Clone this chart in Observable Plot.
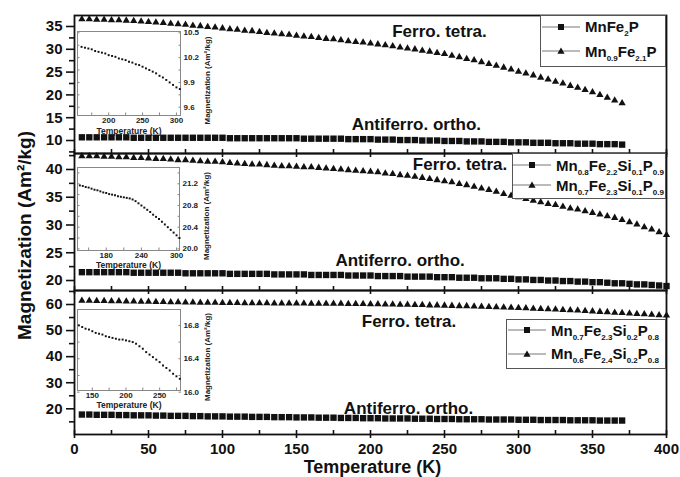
<!DOCTYPE html>
<html><head><meta charset="utf-8">
<script src="https://cdn.jsdelivr.net/npm/d3@7"></script>
<script src="https://cdn.jsdelivr.net/npm/@observablehq/plot@0.6"></script>
<style>
body{margin:0;background:#fff;}
#chart{position:relative;width:680px;height:477px;overflow:hidden;font-family:"Liberation Sans",Arial,Helvetica,sans-serif;color:#111;background:#fff;}
#chart svg{position:absolute;}
.legend{position:absolute;background:#fff;border:1px solid #555;box-sizing:border-box;overflow:hidden;font-weight:bold;font-size:15px;color:#111;}
.row{position:absolute;height:18px;display:flex;align-items:center;white-space:nowrap;}
.row svg{position:static !important;margin-right:5px;}
.sb{font-size:8px;position:relative;top:4px;}
</style></head><body><div id="chart"></div>
<script>
// ---------- data ----------
const temps = [5,10,15,20,25,30,35,40,45,50,55,60,65,70,75,80,85,90,95,100,105,110,115,120,125,130,135,140,145,150,155,160,165,170,175,180,185,190,195,200,205,210,215,220,225,230,235,240,245,250,255,260,265,270,275,280,285,290,295,300,305,310,315,320,325,330,335,340,345,350,355,360,365,370,375,380,385,390,395,400];

// Panel 1
const mnfe2p = [10.7,10.7,10.7,10.7,10.7,10.7,10.7,10.6,10.6,10.6,10.6,10.6,10.6,10.6,10.6,10.6,10.6,10.6,10.6,10.6,10.5,10.5,10.5,10.5,10.5,10.5,10.5,10.5,10.5,10.5,10.4,10.4,10.4,10.4,10.4,10.4,10.3,10.3,10.3,10.3,10.2,10.2,10.2,10.1,10.1,10.1,10.0,10.0,10.0,9.9,9.9,9.9,9.8,9.8,9.8,9.7,9.7,9.7,9.6,9.6,9.6,9.5,9.5,9.5,9.4,9.4,9.4,9.3,9.3,9.3,9.2,9.2,9.2,9.1];
const mn09fe21p = [36.6,36.6,36.5,36.5,36.4,36.4,36.3,36.2,36.1,36.0,35.9,35.8,35.6,35.5,35.4,35.2,35.1,34.9,34.8,34.6,34.4,34.3,34.1,34.0,33.8,33.6,33.5,33.3,33.2,33.0,32.8,32.7,32.5,32.3,32.2,32.0,31.8,31.6,31.5,31.3,31.1,30.9,30.7,30.4,30.2,30.0,29.7,29.5,29.2,29.0,28.6,28.3,27.9,27.6,27.2,26.8,26.4,26.0,25.6,25.1,24.7,24.3,23.8,23.4,22.9,22.5,22.0,21.6,21.1,20.6,20.0,19.4,18.8,18.2];
// Panel 2
const mn08si01 = [21.5,21.5,21.5,21.5,21.5,21.5,21.5,21.4,21.4,21.4,21.4,21.4,21.4,21.4,21.3,21.3,21.3,21.3,21.3,21.3,21.2,21.2,21.2,21.2,21.2,21.2,21.1,21.1,21.1,21.1,21.1,21.0,21.0,21.0,21.0,21.0,20.9,20.9,20.9,20.9,20.8,20.8,20.8,20.8,20.7,20.7,20.7,20.7,20.6,20.6,20.6,20.5,20.5,20.5,20.4,20.4,20.4,20.3,20.3,20.2,20.2,20.1,20.1,20.0,20.0,19.9,19.9,19.8,19.8,19.7,19.7,19.6,19.5,19.5,19.4,19.3,19.3,19.2,19.1,19.0];
const mn07si01 = [42.4,42.4,42.4,42.3,42.3,42.2,42.2,42.1,42.1,42.0,41.9,41.9,41.8,41.7,41.7,41.6,41.5,41.4,41.4,41.3,41.2,41.1,41.0,40.9,40.9,40.8,40.7,40.6,40.6,40.5,40.4,40.4,40.3,40.2,40.1,40.0,39.9,39.8,39.7,39.6,39.5,39.3,39.2,39.0,38.9,38.7,38.5,38.3,38.1,37.9,37.7,37.4,37.2,36.9,36.6,36.3,36.0,35.6,35.3,35.0,34.7,34.4,34.1,33.8,33.6,33.3,33.0,32.8,32.5,32.2,31.9,31.6,31.3,30.9,30.5,30.1,29.6,29.2,28.7,28.2];
// Panel 3
const mn07si02 = [17.8,17.8,17.7,17.7,17.7,17.6,17.6,17.5,17.5,17.5,17.4,17.4,17.3,17.3,17.3,17.2,17.2,17.1,17.1,17.1,17.0,17.0,17.0,16.9,16.9,16.9,16.8,16.8,16.8,16.7,16.7,16.7,16.6,16.6,16.6,16.5,16.5,16.5,16.4,16.4,16.4,16.3,16.3,16.3,16.3,16.2,16.2,16.2,16.1,16.1,16.1,16.0,16.0,16.0,16.0,15.9,15.9,15.9,15.9,15.8,15.8,15.8,15.7,15.7,15.7,15.7,15.6,15.6,15.6,15.6,15.5,15.5,15.5,15.5];
const mn06si02 = [61.5,61.5,61.4,61.4,61.3,61.3,61.2,61.2,61.1,61.1,61.0,61.0,60.9,60.9,60.8,60.8,60.7,60.7,60.7,60.6,60.6,60.6,60.5,60.5,60.5,60.5,60.4,60.4,60.4,60.4,60.4,60.3,60.3,60.3,60.3,60.3,60.2,60.2,60.2,60.1,60.1,60.0,60.0,59.9,59.9,59.8,59.8,59.7,59.7,59.6,59.5,59.4,59.4,59.3,59.2,59.1,59.0,58.9,58.8,58.7,58.6,58.4,58.3,58.2,58.1,57.9,57.8,57.7,57.5,57.4,57.2,57.1,56.9,56.8,56.6,56.4,56.3,56.1,55.9,55.8];

// Insets
const inset1T = [160,165,170,175,180,185,190,195,200,205,210,215,220,225,230,235,240,245,250,255,260,265,270,275,280,285,290,295,300,305];
const inset1M = [10.33,10.32,10.31,10.30,10.28,10.27,10.26,10.25,10.23,10.22,10.21,10.19,10.18,10.17,10.15,10.14,10.12,10.11,10.09,10.07,10.05,10.03,10.01,9.98,9.96,9.93,9.90,9.87,9.84,9.82];
const inset2T = [135,140,145,150,155,160,165,170,175,180,185,190,195,200,205,210,215,220,225,230,235,240,245,250,255,260,265,270,275,280,285,290,295,300,305];
const inset2M = [21.17,21.16,21.14,21.13,21.11,21.09,21.08,21.06,21.04,21.03,21.01,21.00,20.99,20.97,20.96,20.95,20.94,20.93,20.91,20.88,20.84,20.80,20.76,20.72,20.68,20.63,20.59,20.55,20.50,20.45,20.40,20.35,20.30,20.25,20.20];
const inset3T = [130,135,140,145,150,155,160,165,170,175,180,185,190,195,200,205,210,215,220,225,230,235,240,245,250,255,260,265,270,275,280];
const inset3M = [16.80,16.78,16.76,16.75,16.73,16.71,16.70,16.69,16.67,16.66,16.65,16.64,16.63,16.63,16.62,16.61,16.60,16.58,16.55,16.52,16.48,16.45,16.42,16.39,16.36,16.32,16.29,16.26,16.22,16.19,16.16];

// ticks
const xMajor = [0,50,100,150,200,250,300,350,400];
const xMinor = [25,75,125,175,225,275,325,375];
const p1YMajor = [10,15,20,25,30,35];
const p1YMinor = [7.5,12.5,17.5,22.5,27.5,32.5];
const p2YMajor = [20,25,30,35,40];
const p2YMinor = [22.5,27.5,32.5,37.5,42.5];
const p3YMajor = [20,30,40,50,60];
const p3YMinor = [15,25,35,45,55,65];

// annotations (text, temperature, magnetization)
const annoText = ["Ferro. tetra.", "Antiferro. ortho."];
const p1AnnoT = [246.6, 231], p1AnnoM = [33.9, 13.5];
const p2AnnoT = [260.5, 220], p2AnnoM = [40.8, 23.6];
const p3AnnoT = [226, 225.7], p3AnnoM = [53.5, 20.0];

// legends
const legend1 = ["MnFe<span class=sb>2</span>P", "Mn<span class=sb>0.9</span>Fe<span class=sb>2.1</span>P"];
const legend2 = ["Mn<span class=sb>0.8</span>Fe<span class=sb>2.2</span>Si<span class=sb>0.1</span>P<span class=sb>0.9</span>", "Mn<span class=sb>0.7</span>Fe<span class=sb>2.3</span>Si<span class=sb>0.1</span>P<span class=sb>0.9</span>"];
const legend3 = ["Mn<span class=sb>0.7</span>Fe<span class=sb>2.3</span>Si<span class=sb>0.2</span>P<span class=sb>0.8</span>", "Mn<span class=sb>0.6</span>Fe<span class=sb>2.4</span>Si<span class=sb>0.2</span>P<span class=sb>0.8</span>"];

// ---------- drawing ----------
const FONT = '"Liberation Sans", Arial, Helvetica, sans-serif';
const chart = document.getElementById("chart");
function place(svg, left, top) {
  svg.style.position = "absolute"; svg.style.left = left + "px"; svg.style.top = top + "px";
  svg.style.maxWidth = "none";
  chart.appendChild(svg);
}

function panel(o) {
  const sqData = o.sq.map((m, i) => ({t: temps[i], m}));
  const trData = o.tr.map((m, i) => ({t: temps[i], m}));
  const anno = annoText.map((s, i) => ({s, t: o.annoT[i], m: o.annoM[i]}));
  return Plot.plot({
    width: 680, height: 477,
    marginLeft: 74, marginRight: 14, marginTop: o.frameTop, marginBottom: 477 - o.frameBottom,
    x: {domain: [0, 400]},
    y: {domain: o.yDomain},
    style: {background: "transparent", fontFamily: FONT, fontWeight: "bold", fontSize: "15px", color: "#111", overflow: "visible"},
    marks: [
      Plot.dot(sqData, {x: "t", y: "m", symbol: "square", r: 3.6, fill: "#111"}),
      Plot.dot(trData, {x: "t", y: "m", symbol: "triangle", r: 2.7, fill: "#111"}),
      Plot.text(anno, {x: "t", y: "m", text: "s", fontSize: 17, fontWeight: "bold", fill: "#111"}),
      Plot.frame({stroke: "#111", strokeWidth: 1.8}),
      Plot.axisY(o.yMajor, {anchor: "left", tickSize: 8, tickPadding: 4, strokeWidth: 1.6, label: null}),
      Plot.axisY(o.yMinor.filter(v => v > o.yDomain[0] && v < o.yDomain[1]), {anchor: "left", tickSize: 5, strokeWidth: 1.6, fill: "none", label: null}),
      Plot.axisX(xMajor, {anchor: "bottom", tickSize: 8, dy: -4, strokeWidth: 1.6, fill: "none", label: null}),
      Plot.axisX(xMinor, {anchor: "bottom", tickSize: 4, dy: -4, strokeWidth: 1.6, fill: "none", label: null}),
      ...(o.extra || [])
    ]
  });
}

place(panel({sq: mnfe2p, tr: mn09fe21p, yDomain: [7.15, 37.41], yMajor: p1YMajor, yMinor: p1YMinor,
  frameTop: 15, frameBottom: 153, annoT: p1AnnoT, annoM: p1AnnoM}), 0, 0);

place(panel({sq: mn08si01, tr: mn07si01, yDomain: [18.2, 42.88], yMajor: p2YMajor, yMinor: p2YMinor,
  frameTop: 153, frameBottom: 290, annoT: p2AnnoT, annoM: p2AnnoM,
  extra: [Plot.text(["Magnetization (Am²/kg)"], {frameAnchor: "left", textAnchor: "middle", lineAnchor: "middle", dx: -50, dy: 13.5, rotate: -90, fontSize: 19, fontWeight: "bold", fill: "#111"})]}), 0, 0);

place(panel({sq: mn07si02, tr: mn06si02, yDomain: [10.15, 65.37], yMajor: p3YMajor, yMinor: p3YMinor,
  frameTop: 290, frameBottom: 434, annoT: p3AnnoT, annoM: p3AnnoM,
  extra: [
    Plot.axisX(xMajor, {anchor: "bottom", tickSize: 0, tickPadding: 9, label: null, fontSize: 15}),
    Plot.text(["Temperature (K)"], {frameAnchor: "bottom", textAnchor: "middle", lineAnchor: "middle", dx: 2, dy: 32.5, fontSize: 18, fontWeight: "bold", fill: "#111"})
  ]}), 0, 0);

function inset(o) {
  const data = o.T.map((t, i) => ({t, m: o.M[i]}));
  const mL = 4, mT = 2, mR = 46, mB = 30;
  const [x0, y0, x1, y1] = o.box;
  const svg = Plot.plot({
    width: (x1 - x0) + mL + mR, height: (y1 - y0) + mT + mB,
    marginLeft: mL, marginTop: mT, marginRight: mR, marginBottom: mB,
    x: {domain: o.xDomain}, y: {domain: o.yDomain},
    style: {background: "transparent", fontFamily: FONT, fontWeight: "bold", fontSize: "8px", color: "#222", overflow: "visible"},
    marks: [
      Plot.frame({fill: "white", stroke: "#888"}),
      Plot.axisX(o.xMaj.concat(o.xMin), {anchor: "bottom", tickSize: 2.5, dy: -2.5, stroke: "#888", fill: "none", label: null}),
      Plot.axisY(o.yMaj.concat(o.yMin), {anchor: "right", tickSize: 2.5, dx: -2.5, stroke: "#888", fill: "none", label: null}),
      Plot.axisY(o.yMaj.concat(o.yMin), {anchor: "left", tickSize: 2.5, dx: 2.5, stroke: "#888", fill: "none", label: null}),
      Plot.axisX(o.xMaj, {anchor: "bottom", tickSize: 0, tickPadding: 2, label: null, fontSize: 8}),
      Plot.axisY(o.yMaj, {anchor: "right", tickSize: 0, tickPadding: 3, tickFormat: d => d.toFixed(1), label: null, fontSize: 8}),
      Plot.dot(data, {x: "t", y: "m", symbol: "square", r: 1.1, fill: "#111"}),
      Plot.text(["Temperature (K)"], {frameAnchor: "bottom", textAnchor: "middle", lineAnchor: "middle", dy: o.xlabDy, fontSize: 8.5, fontWeight: "bold", fill: "#222"}),
      Plot.text(["Magnetization (Am²/kg)"], {frameAnchor: "right", textAnchor: "middle", lineAnchor: "middle", dx: 27, dy: 7, rotate: -90, fontSize: 8, fontWeight: "bold", fill: "#222"})
    ]
  });
  place(svg, x0 - mL, y0 - mT);
}

inset({T: inset1T, M: inset1M, xDomain: [154, 306], yDomain: [9.5, 10.516],
  xMaj: [200, 250, 300], xMin: [175, 225, 275], yMaj: [9.6, 9.9, 10.2, 10.5], yMin: [9.75, 10.05, 10.35],
  box: [77, 31, 180, 115], xlabDy: 16});
inset({T: inset2T, M: inset2M, xDomain: [131, 305], yDomain: [19.97, 21.5],
  xMaj: [180, 240, 300], xMin: [150, 210, 270], yMaj: [20.0, 20.4, 20.8, 21.2], yMin: [20.2, 20.6, 21.0, 21.4],
  box: [77, 167, 179, 250], xlabDy: 15});
inset({T: inset3T, M: inset3M, xDomain: [128, 281], yDomain: [16.02, 16.99],
  xMaj: [150, 200, 250], xMin: [175, 225, 275], yMaj: [16.0, 16.4, 16.8], yMin: [16.2, 16.6],
  box: [77, 309, 180, 390], xlabDy: 15});

function symbolSvg(kind) {
  const mark = kind === "square"
    ? '<rect x="16" y="2" width="6" height="6" fill="#111"/>'
    : '<path d="M19,1.5 L22.6,7.8 L15.4,7.8 Z" fill="#111"/>';
  return `<svg width="38" height="10" viewBox="0 0 38 10"><line x1="0" x2="38" y1="5" y2="5" stroke="#777" stroke-width="1"/>${mark}</svg>`;
}
function legend(labels, box, rows, symX) {
  const [x0, y0, x1, y1] = box;
  const div = document.createElement("div");
  div.className = "legend";
  Object.assign(div.style, {left: x0 + "px", top: y0 + "px", width: (x1 - x0) + "px", height: (y1 - y0) + "px"});
  labels.forEach((html, i) => {
    const r = document.createElement("div");
    r.className = "row";
    r.style.left = symX + "px";
    r.style.top = (rows[i] - 9) + "px";
    r.innerHTML = symbolSvg(i === 0 ? "square" : "triangle") + "<span>" + html + "</span>";
    div.appendChild(r);
  });
  chart.appendChild(div);
}
legend(legend1, [540, 15, 666, 67], [10.5, 35], 1);
legend(legend2, [512, 153, 666, 199], [11, 31], 0);
legend(legend3, [506, 319, 666, 369], [10, 33.5], 1);
</script>
</body></html>
